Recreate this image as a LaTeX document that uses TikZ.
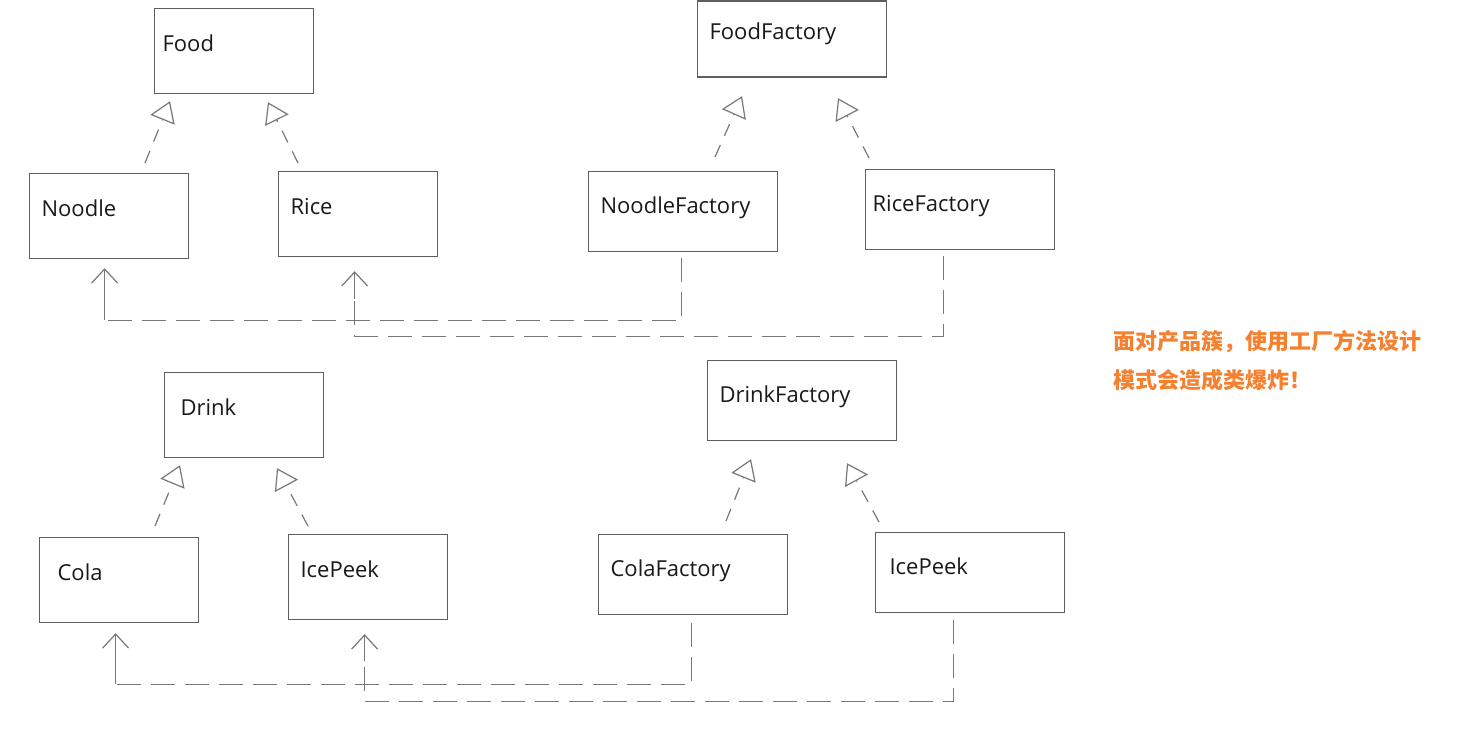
\documentclass[tikz,border=0pt]{standalone}
\usepackage{fontspec}
\setmainfont{Open Sans}
\newfontfamily\cjk{Noto Sans CJK SC}
\usetikzlibrary{calc,arrows.meta}
\definecolor{boxgray}{RGB}{95,95,95}
\definecolor{linegray}{RGB}{120,120,120}
\definecolor{noteorange}{RGB}{245,128,45}
\tikzset{
  product/.style={draw=boxgray, line width=0.6pt, anchor=north west, align=left,
    inner xsep=6pt, inner ysep=0pt, text width=67.5pt, text height=21.5pt, text depth=21pt,
    font=\fontsize{11}{13}\selectfont, text=black!90},
  factory/.style={product, text width=82.5pt, text height=21pt, text depth=19pt},
  impl/.style={draw=linegray, line width=0.6pt, dash pattern=on 6.5pt off 5pt,
    -{Triangle[open, length=10pt, width=13pt]}},
  dep/.style={draw=linegray, line width=0.6pt, dash pattern=on 12pt off 5pt},
  use/.style={draw=linegray, line width=0.6pt, -{Straight Barb[length=7pt, width=13pt]}},
  note/.style={font=\cjk\bfseries\fontsize{11}{19.5}\selectfont, text=noteorange,
    align=left, inner sep=0pt}
}

\begin{document}
\begin{tikzpicture}[x=0.5pt, y=-0.5pt]
	%%%%% START %%%%%
	\fill[white] (0,0) rectangle (1483,733);
	\useasboundingbox (0,0) rectangle (1483,733);
	
	% food side
	\node[product, inner xsep=4pt, text width=71.5pt] (food) at (154,8) {Food};
	\node[product] (noodle) at (29,173) {Noodle};
	\node[product] (rice) at (278,171) {Rice};
	
	\node[factory, text height=19pt, text depth=19pt] (foodfac) at (697,0.5) {FoodFactory};
	\node[factory] (noodlefac) at (588,171) {NoodleFactory};
	\node[factory, inner xsep=3.5pt, text width=87.5pt] (ricefac) at (865,169) {RiceFactory};
	
	\draw[impl] ($(noodle.north west)+(116,-10)$) -- ($(food.south west)+(16,7)$);
	\draw[impl] ($(rice.north west)+(20,-8)$) -- ($(food.south west)+(114,8)$);
	\draw[impl] ($(noodlefac.north west)+(127,-14)$) -- ($(foodfac.south west)+(45,18.5)$);
	\draw[impl] ($(ricefac.north west)+(4,-11)$) -- ($(foodfac.south west)+(141,20.5)$);
	
	\draw[dep] ($(noodlefac.south)+(-1.5,6)$) |- ($(noodle.south)+(-4.5,61)$) coordinate (noodlecorner);
	\draw[use] (noodlecorner) -- ($(noodle.south)+(-4.5,9)$);
	\draw[dep] ($(ricefac.south)+(-16.5,6)$) |- ($(rice.south)+(-3.5,79)$) -- ($(rice.south)+(-3.5,42)$) coordinate (ricemid);
	\draw[use] (ricemid) -- ($(rice.south)+(-3.5,14)$);
	
	% drink side
	\node[product, inner xsep=8pt, text width=63.5pt] (drink) at (164,372) {Drink};
	\node[product, inner xsep=9pt, text width=61.5pt] (cola) at (39,537) {Cola};
	\node[product] (icepeek) at (288,534) {IcePeek};
	
	\node[factory] (drinkfac) at (707,360) {DrinkFactory};
	\node[factory] (colafac) at (598,534) {ColaFactory};
	\node[factory, inner xsep=7pt, text width=80.5pt] (icepeekfac) at (875,532) {IcePeek};
	
	\draw[impl] ($(cola.north west)+(116,-11)$) -- ($(drink.south west)+(16,7)$);
	\draw[impl] ($(icepeek.north west)+(20,-8)$) -- ($(drink.south west)+(113,10)$);
	\draw[impl] ($(colafac.north west)+(128,-13)$) -- ($(drinkfac.south west)+(44,18)$);
	\draw[impl] ($(icepeekfac.north west)+(4,-10)$) -- ($(drinkfac.south west)+(140,22)$);
	
	\draw[dep] ($(colafac.south)+(-1.5,8)$) |- ($(cola.south)+(-3.5,61)$) coordinate (colacorner);
	\draw[use] (colacorner) -- ($(cola.south)+(-3.5,10)$);
	\draw[dep] ($(icepeekfac.south)+(-16.5,7)$) |- ($(icepeek.south)+(-3.5,81)$) -- ($(icepeek.south)+(-3.5,41)$) coordinate (icepeekmid);
	\draw[use] (icepeekmid) -- ($(icepeek.south)+(-3.5,14)$);
	
	% remark
	\node[note, anchor=west] (remark) at (1113,361) {面对产品簇，使用工厂方法设计\\模式会造成类爆炸！};
	%%%%% END %%%%%
\end{tikzpicture}
\end{document}
